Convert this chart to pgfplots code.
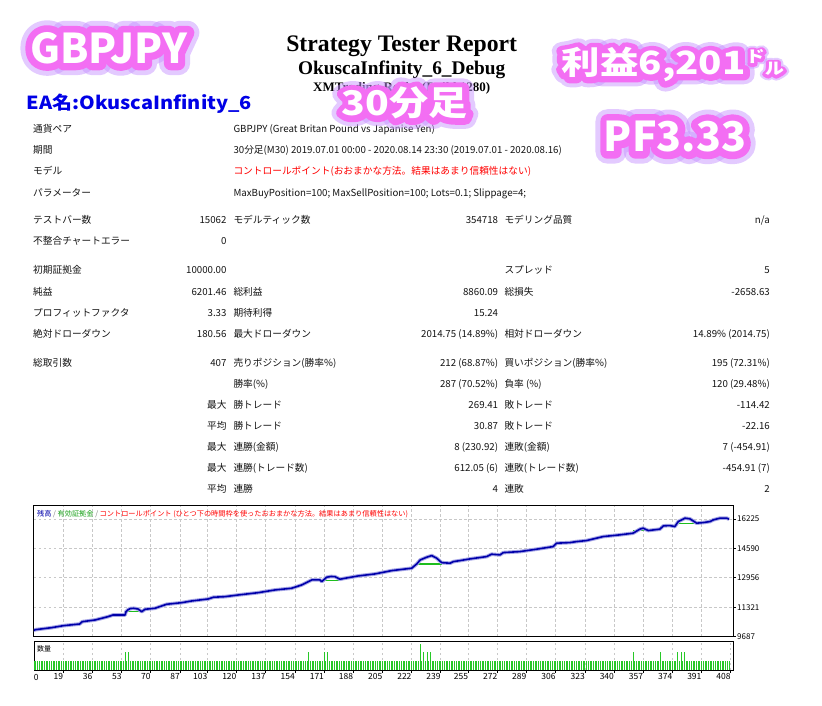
\documentclass[border=0pt]{standalone}
\usepackage{pgfplots}
\pgfplotsset{compat=1.18}
\usepackage{pgfplotstable}
\usepackage{graphicx}
\usepackage{fontspec}
\setmainfont{Noto Sans CJK JP}
\newfontfamily\tnr{Liberation Serif}
\newfontfamily\jp{Noto Sans CJK JP}
\newfontfamily\glowA{Noto Sans CJK JP}[BoldFeatures={FakeBold=58}]
\newfontfamily\glowB{Noto Sans CJK JP}[BoldFeatures={FakeBold=34}]
\definecolor{glowpink}{RGB}{243,110,243}
\definecolor{glowout}{RGB}{200,150,255}
\definecolor{eablue}{RGB}{0,0,230}
\definecolor{balblue}{RGB}{0,0,170}
\definecolor{halo}{RGB}{165,165,230}
\definecolor{eqgreen}{RGB}{30,190,30}
\definecolor{volgreen}{RGB}{40,200,40}
\definecolor{gridgray}{RGB}{200,200,200}
\definecolor{txt}{RGB}{20,20,20}
\newcommand{\tf}{\fontsize{9.7}{11}\selectfont}
\tikzset{lab/.style={anchor=base west, inner sep=0pt, font=\tf, text=txt},
         val/.style={anchor=base east, inner sep=0pt, font=\tf, text=txt}}
% #1 position options, #2 size, #3 content
\newcommand{\glow}[3]{%
  \begin{scope}[line join=round, line cap=round]
  \node[#1, text=glowout, opacity=0.5, font=\glowA\bfseries\fontsize{#2}{#2}\selectfont] {#3};
  \node[#1, text=glowpink, font=\glowB\bfseries\fontsize{#2}{#2}\selectfont] {#3};
  \node[#1, text=white, font=\jp\bfseries\fontsize{#2}{#2}\selectfont] {#3};
  \end{scope}
}
\pgfplotstableread{
t v
0 10000
3 10080
12 10187
19 10299
28.5 10393
30 10521
37.5 10616
45 10799
48 10894
55 10894
55.5 11077
56.5 11171
58 11250
60 11266
62.5 11227
64.7 11077
66.6 11210
72.4 11266
76.3 11394
79.2 11488
88 11577
93.8 11672
103.5 11783
106.4 11878
113.2 11911
121 12005
132.6 12133
142.4 12284
152.1 12378
157.9 12561
161.8 12745
163.8 12840
168.6 12840
169.6 12745
172.5 12990
175 13030
177.3 13023
180.2 12878
183.2 12934
190.9 13062
200.6 13173
210.4 13357
222 13490
225 13729
227 13950
230.8 14102
233.7 14191
236.6 14046
239.5 13800
244.4 13768
246.3 13857
250.2 13913
256 14007
265.7 14135
268.6 14268
273.5 14230
275.4 14357
285.1 14413
294.8 14546
304.5 14691
306.5 14880
314.2 14913
318.2 14969
323.9 15025
333.6 15247
343.3 15342
351.1 15436
355 15659
356.9 15714
359.9 15581
366.7 15659
368.7 15842
372.5 15859
375.4 15803
377.4 16081
381.3 16270
384.2 16231
388.1 15992
392 16025
395.9 16081
397.8 16175
401.7 16270
405.6 16270
407 16215
}\balance
\begin{document}
\begin{tikzpicture}
\useasboundingbox (0,0) rectangle (822pt,-706pt);
\fill[white] (0,0) rectangle (822pt,-706pt);
\begin{scope}[x=1pt,y=-1pt]
\node[anchor=base, inner sep=0pt, font=\tnr\bfseries\fontsize{23.7}{24}\selectfont] at (401.7,51.7) {Strategy Tester Report};
\node[anchor=base, inner sep=0pt, font=\tnr\bfseries\fontsize{19.3}{20}\selectfont] at (401.7,75) {OkuscaInfinity\_6\_Debug};
\node[anchor=base, inner sep=0pt, font=\tnr\bfseries\fontsize{13}{14}\selectfont] at (401.7,91.7) {XMTrading-Real 3 (Build 1280)};
\node[anchor=base west, inner sep=0pt, text=eablue, font=\jp\bfseries\fontsize{18}{18}\selectfont] at (26.7,110) {\scalebox{1.11}[1]{EA名:OkuscaInfinity\_6}};
% table
\node[lab] at (33,132.5) {通貨ペア};
\node[lab] at (233.3,132.5) {GBPJPY (Great Britan Pound vs Japanise Yen)};
\node[lab] at (33,153.5) {期間};
\node[lab] at (233.3,153.5) {30分足(M30) 2019.07.01 00:00 - 2020.08.14 23:30 (2019.07.01 - 2020.08.16)};
\node[lab] at (33,174.5) {モデル};
\node[lab,text=red] at (233.3,174.5) {コントロールポイント(おおまかな方法。結果はあまり信頼性はない)};
\node[lab] at (33,196) {パラメーター};
\node[lab] at (233.3,196) {MaxBuyPosition=100; MaxSellPosition=100; Lots=0.1; Slippage=4;};
\node[lab] at (33,223.5) {テストバー数};
\node[val] at (226.7,223.5) {15062};
\node[lab] at (233.3,223.5) {モデルティック数};
\node[val] at (498.3,223.5) {354718};
\node[lab] at (504.3,223.5) {モデリング品質};
\node[val] at (770,223.5) {n/a};
\node[lab] at (33,244.5) {不整合チャートエラー};
\node[val] at (226.7,244.5) {0};
\node[lab] at (33,273.5) {初期証拠金};
\node[val] at (226.7,273.5) {10000.00};
\node[lab] at (504.3,273.5) {スプレッド};
\node[val] at (770,273.5) {5};
\node[lab] at (33,295) {純益};
\node[val] at (226.7,295) {6201.46};
\node[lab] at (233.3,295) {総利益};
\node[val] at (498.3,295) {8860.09};
\node[lab] at (504.3,295) {総損失};
\node[val] at (770,295) {-2658.63};
\node[lab] at (33,316.5) {プロフィットファクタ};
\node[val] at (226.7,316.5) {3.33};
\node[lab] at (233.3,316.5) {期待利得};
\node[val] at (498.3,316.5) {15.24};
\node[lab] at (33,337.5) {絶対ドローダウン};
\node[val] at (226.7,337.5) {180.56};
\node[lab] at (233.3,337.5) {最大ドローダウン};
\node[val] at (498.3,337.5) {2014.75 (14.89\%)};
\node[lab] at (504.3,337.5) {相対ドローダウン};
\node[val] at (770,337.5) {14.89\% (2014.75)};
\node[lab] at (33,366.5) {総取引数};
\node[val] at (226.7,366.5) {407};
\node[lab] at (233.3,366.5) {売りポジション(勝率\%)};
\node[val] at (498.3,366.5) {212 (68.87\%)};
\node[lab] at (504.3,366.5) {買いポジション(勝率\%)};
\node[val] at (770,366.5) {195 (72.31\%)};
\node[lab] at (233.3,387.5) {勝率(\%)};
\node[val] at (498.3,387.5) {287 (70.52\%)};
\node[lab] at (504.3,387.5) {負率 (\%)};
\node[val] at (770,387.5) {120 (29.48\%)};
\node[val] at (226.7,408.5) {最大};
\node[lab] at (233.3,408.5) {勝トレード};
\node[val] at (498.3,408.5) {269.41};
\node[lab] at (504.3,408.5) {敗トレード};
\node[val] at (770,408.5) {-114.42};
\node[val] at (226.7,429.5) {平均};
\node[lab] at (233.3,429.5) {勝トレード};
\node[val] at (498.3,429.5) {30.87};
\node[lab] at (504.3,429.5) {敗トレード};
\node[val] at (770,429.5) {-22.16};
\node[val] at (226.7,450.5) {最大};
\node[lab] at (233.3,450.5) {連勝(金額)};
\node[val] at (498.3,450.5) {8 (230.92)};
\node[lab] at (504.3,450.5) {連敗(金額)};
\node[val] at (770,450.5) {7 (-454.91)};
\node[val] at (226.7,471.5) {最大};
\node[lab] at (233.3,471.5) {連勝(トレード数)};
\node[val] at (498.3,471.5) {612.05 (6)};
\node[lab] at (504.3,471.5) {連敗(トレード数)};
\node[val] at (770,471.5) {-454.91 (7)};
\node[val] at (226.7,492.5) {平均};
\node[lab] at (233.3,492.5) {連勝};
\node[val] at (498.3,492.5) {4};
\node[lab] at (504.3,492.5) {連敗};
\node[val] at (770,492.5) {2};
\end{scope}

\begin{axis}[
  at={(34pt,-636.7pt)}, anchor=south west,
  scale only axis, width=699pt, height=131.7pt,
  xmin=1.9, xmax=409.3, ymin=9687, ymax=17000,
  scaled y ticks=false, scaled x ticks=false,
  axis line style={draw=black, line width=1pt},
  xtick={19,36,53,70,87,103,120,137,154,171,188,205,222,239,255,272,289,306,323,340,357,374,391},
  xticklabels={},
  xtick style={draw=none},
  ytick={9687,11321,12956,14590,16225},
  yticklabels={9687,11321,12956,14590,16225},
  ytick pos=right, yticklabel pos=right,
  tick align=outside, major tick length=3pt,
  ytick style={black, line width=0.8pt},
  grid=major,
  major grid style={draw=gridgray, line width=0.7pt, dash pattern=on 2.5pt off 2.5pt},
  yticklabel style={font=\fontsize{8}{9}\selectfont, anchor=west, inner sep=0pt, xshift=1pt},
]
\addplot[draw=eqgreen, line width=1.2pt, mark=none] coordinates {(55.5,11077)(64.7,11077)};
\addplot[draw=eqgreen, line width=1.2pt, mark=none] coordinates {(162,12800)(180,12800)};
\addplot[draw=eqgreen, line width=1.2pt, mark=none] coordinates {(225,13729)(239.5,13729)};
\addplot[draw=eqgreen, line width=1.2pt, mark=none] coordinates {(351,15581)(359.9,15581)};
\addplot[draw=eqgreen, line width=1.2pt, mark=none] coordinates {(367,15803)(375.4,15803)};
\addplot[draw=eqgreen, line width=1.2pt, mark=none] coordinates {(377.4,15992)(388.1,15992)};
\addplot[draw=halo, line width=3.6pt, mark=none, line join=round] table[x=t,y=v] {\balance};
\addplot[draw=balblue, line width=1.6pt, mark=none, line join=round] table[x=t,y=v] {\balance};
\end{axis}

\begin{axis}[
  at={(34pt,-670pt)}, anchor=south west,
  scale only axis, width=699pt, height=29pt,
  xmin=1.9, xmax=409.3, ymin=0, ymax=0.33,
  axis line style={draw=black, line width=1pt},
  xtick={19,36,53,70,87,103,120,137,154,171,188,205,222,239,255,272,289,306,323,340,357,374,391,408},
  xticklabels={19,36,53,70,87,103,120,137,154,171,188,205,222,239,255,272,289,306,323,340,357,374,391,408},
  ytick=\empty,
  xtick pos=bottom, tick align=outside, major tick length=3pt,
  xtick style={black, line width=0.8pt},
  xmajorgrids,
  major grid style={draw=gridgray, line width=0.7pt, dash pattern=on 2.5pt off 2.5pt},
  xticklabel style={font=\fontsize{8.5}{9}\selectfont, anchor=north east, inner sep=0pt, yshift=-0.5pt},
]
\addplot[ycomb, draw=volgreen, line width=0.9pt, mark=none] coordinates {
(1,0.1)(2,0.1)(3,0.1)(4,0.1)(5,0.1)(6,0.1)(7,0.1)(8,0.1)(9,0.1)(10,0.1)
(11,0.1)(12,0.1)(13,0.1)(14,0.1)(15,0.1)(16,0.1)(17,0.1)(18,0.1)(19,0.1)(20,0.1)
(21,0.1)(22,0.1)(23,0.1)(24,0.1)(25,0.1)(26,0.1)(27,0.1)(28,0.1)(29,0.1)(30,0.1)
(31,0.1)(32,0.1)(33,0.1)(34,0.1)(35,0.1)(36,0.1)(37,0.1)(38,0.1)(39,0.1)(40,0.1)
(41,0.1)(42,0.1)(43,0.1)(44,0.1)(45,0.1)(46,0.1)(47,0.1)(48,0.1)(49,0.1)(50,0.1)
(51,0.1)(52,0.1)(53,0.1)(54,0.1)(55,0.2)(56,0.1)(57,0.2)(58,0.1)(59,0.1)(60,0.1)
(61,0.1)(62,0.1)(63,0.1)(64,0.1)(65,0.1)(66,0.1)(67,0.1)(68,0.1)(69,0.1)(70,0.1)
(71,0.1)(72,0.1)(73,0.1)(74,0.1)(75,0.1)(76,0.1)(77,0.1)(78,0.1)(79,0.1)(80,0.1)
(81,0.1)(82,0.1)(83,0.1)(84,0.1)(85,0.1)(86,0.1)(87,0.1)(88,0.1)(89,0.1)(90,0.1)
(91,0.1)(92,0.1)(93,0.1)(94,0.1)(95,0.1)(96,0.1)(97,0.1)(98,0.1)(99,0.1)(100,0.1)
(101,0.1)(102,0.1)(103,0.1)(104,0.1)(105,0.1)(106,0.1)(107,0.1)(108,0.1)(109,0.1)(110,0.1)
(111,0.1)(112,0.1)(113,0.1)(114,0.1)(115,0.1)(116,0.1)(117,0.1)(118,0.1)(119,0.1)(120,0.1)
(121,0.1)(122,0.1)(123,0.1)(124,0.1)(125,0.1)(126,0.1)(127,0.1)(128,0.1)(129,0.1)(130,0.1)
(131,0.1)(132,0.1)(133,0.1)(134,0.1)(135,0.1)(136,0.1)(137,0.1)(138,0.1)(139,0.1)(140,0.1)
(141,0.1)(142,0.1)(143,0.1)(144,0.1)(145,0.1)(146,0.1)(147,0.1)(148,0.1)(149,0.1)(150,0.1)
(151,0.1)(152,0.1)(153,0.1)(154,0.1)(155,0.1)(156,0.1)(157,0.1)(158,0.1)(159,0.1)(160,0.1)
(161,0.1)(162,0.2)(163,0.1)(164,0.1)(165,0.1)(166,0.1)(167,0.1)(168,0.1)(169,0.1)(170,0.1)
(171,0.2)(172,0.1)(173,0.2)(174,0.1)(175,0.1)(176,0.1)(177,0.1)(178,0.1)(179,0.1)(180,0.1)
(181,0.1)(182,0.1)(183,0.1)(184,0.1)(185,0.1)(186,0.1)(187,0.1)(188,0.1)(189,0.1)(190,0.1)
(191,0.1)(192,0.1)(193,0.1)(194,0.1)(195,0.1)(196,0.1)(197,0.1)(198,0.1)(199,0.1)(200,0.1)
(201,0.1)(202,0.1)(203,0.1)(204,0.1)(205,0.1)(206,0.1)(207,0.1)(208,0.1)(209,0.1)(210,0.1)
(211,0.1)(212,0.1)(213,0.1)(214,0.1)(215,0.1)(216,0.1)(217,0.1)(218,0.1)(219,0.1)(220,0.1)
(221,0.1)(222,0.1)(223,0.1)(224,0.1)(225,0.1)(226,0.1)(227,0.3)(228,0.1)(229,0.2)(230,0.1)
(231,0.2)(232,0.1)(233,0.2)(234,0.1)(235,0.1)(236,0.1)(237,0.1)(238,0.1)(239,0.1)(240,0.1)
(241,0.1)(242,0.1)(243,0.1)(244,0.1)(245,0.1)(246,0.1)(247,0.1)(248,0.1)(249,0.1)(250,0.1)
(251,0.1)(252,0.1)(253,0.1)(254,0.1)(255,0.1)(256,0.1)(257,0.1)(258,0.1)(259,0.1)(260,0.1)
(261,0.1)(262,0.1)(263,0.1)(264,0.1)(265,0.1)(266,0.1)(267,0.1)(268,0.1)(269,0.1)(270,0.1)
(271,0.1)(272,0.1)(273,0.1)(274,0.1)(275,0.1)(276,0.1)(277,0.1)(278,0.1)(279,0.1)(280,0.1)
(281,0.1)(282,0.1)(283,0.1)(284,0.1)(285,0.1)(286,0.1)(287,0.1)(288,0.1)(289,0.1)(290,0.1)
(291,0.1)(292,0.1)(293,0.1)(294,0.1)(295,0.1)(296,0.1)(297,0.1)(298,0.1)(299,0.1)(300,0.1)
(301,0.1)(302,0.1)(303,0.1)(304,0.1)(305,0.1)(306,0.1)(307,0.1)(308,0.1)(309,0.1)(310,0.1)
(311,0.1)(312,0.1)(313,0.1)(314,0.1)(315,0.1)(316,0.1)(317,0.1)(318,0.1)(319,0.1)(320,0.1)
(321,0.1)(322,0.1)(323,0.1)(324,0.1)(325,0.1)(326,0.1)(327,0.1)(328,0.1)(329,0.1)(330,0.1)
(331,0.1)(332,0.1)(333,0.1)(334,0.1)(335,0.1)(336,0.1)(337,0.1)(338,0.1)(339,0.1)(340,0.1)
(341,0.1)(342,0.1)(343,0.1)(344,0.1)(345,0.1)(346,0.1)(347,0.1)(348,0.1)(349,0.1)(350,0.1)
(351,0.2)(352,0.1)(353,0.1)(354,0.1)(355,0.1)(356,0.1)(357,0.1)(358,0.1)(359,0.1)(360,0.1)
(361,0.1)(362,0.1)(363,0.1)(364,0.1)(365,0.1)(366,0.1)(367,0.2)(368,0.1)(369,0.1)(370,0.1)
(371,0.1)(372,0.1)(373,0.1)(374,0.1)(375,0.1)(376,0.1)(377,0.2)(378,0.1)(379,0.2)(380,0.1)
(381,0.2)(382,0.1)(383,0.1)(384,0.1)(385,0.1)(386,0.1)(387,0.1)(388,0.1)(389,0.1)(390,0.1)
(391,0.1)(392,0.1)(393,0.1)(394,0.1)(395,0.1)(396,0.1)(397,0.1)(398,0.1)(399,0.1)(400,0.1)
(401,0.1)(402,0.1)(403,0.1)(404,0.1)(405,0.1)(406,0.1)(407,0.1)
};
\end{axis}

\begin{scope}[x=1pt,y=-1pt]
\node[anchor=base west, inner sep=0pt, font=\fontsize{7.2}{8}\selectfont] at (37,516) {\textcolor{balblue}{残高} \textcolor{gray}{/} \textcolor{eqgreen!85!black}{有効証拠金} \textcolor{gray}{/} \textcolor{red}{コントロールポイント (ひとつ下の時間枠を使ったおおまかな方法。結果はあまり信頼性はない)}};
\node[anchor=base west, inner sep=0pt, font=\fontsize{7}{8}\selectfont] at (37,651) {数量};
\node[anchor=base, inner sep=0pt, font=\fontsize{8.5}{9}\selectfont] at (36.2,680.5) {0};
\glow{at={(30,63.3)}, anchor=base west, inner sep=0pt}{41}{GBPJPY}
\glow{at={(341.7,116)}, anchor=base west, inner sep=0pt}{34}{\scalebox{1.15}[1]{30分足}}
\glow{at={(561.7,75)}, anchor=base west, inner sep=0pt}{32}{\scalebox{1.2}[1]{利益6,201\raisebox{12pt}{\fontsize{16}{16}\selectfont ド}{\fontsize{16}{16}\selectfont ル}}}
\glow{at={(675,151.7)}, anchor=base, inner sep=0pt}{41}{PF3.33}
\end{scope}
\end{tikzpicture}
\end{document}
